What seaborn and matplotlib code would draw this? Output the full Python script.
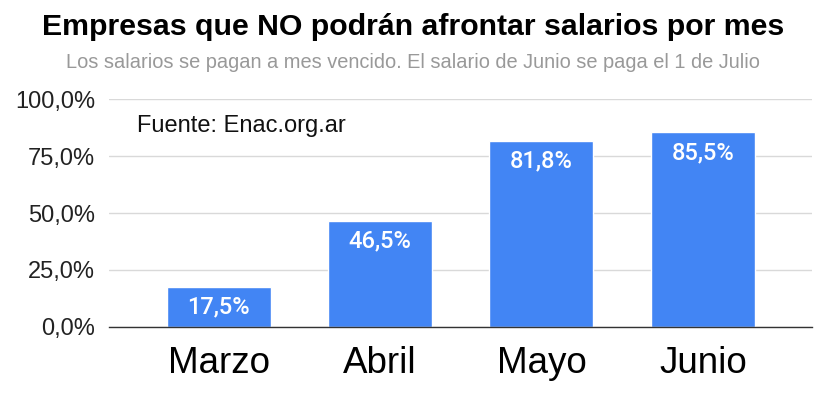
import matplotlib
matplotlib.use("Agg")
import matplotlib.pyplot as plt
import seaborn as sns
import pandas as pd
from matplotlib.ticker import FuncFormatter

meses = ["Marzo", "Abril", "Mayo", "Junio"]
porcentajes = [17.5, 46.5, 81.8, 85.5]
yticks = [0, 25, 50, 75, 100]

title = "Empresas que NO podrán afrontar salarios por mes"
subtitle = "Los salarios se pagan a mes vencido. El salario de Junio se paga el 1 de Julio"
source = "Fuente: Enac.org.ar"

sns.set_theme(style="white")
plt.rcParams['font.family'] = ['Liberation Sans', 'DejaVu Sans']

df = pd.DataFrame({"mes": meses, "pct": porcentajes})

fig = plt.figure(figsize=(8.26, 3.99), dpi=100)
ax = fig.add_axes([0.132, 0.181, 0.851, 0.570])
sns.barplot(data=df, x="mes", y="pct", color="#4285f4", saturation=1,
            width=0.644, ax=ax, zorder=3)

ax.set_ylim(0, 100)
ax.set_xlim(-0.678, 3.675)
ax.set_yticks(yticks)
ax.yaxis.set_major_formatter(FuncFormatter(lambda v, p: f"{v:.1f}%".replace(".", ",")))
ax.grid(axis="y", color="#d9d9d9", linewidth=1, zorder=0)
for s in ["top", "right", "left"]:
    ax.spines[s].set_visible(False)
ax.spines["bottom"].set_color("#333333")
ax.spines["bottom"].set_linewidth(1)
ax.spines["bottom"].set_zorder(4)
ax.set_xlabel("")
ax.set_ylabel("")
ax.tick_params(axis="y", labelsize=17, colors="#222222", length=0, pad=10)
ax.tick_params(axis="x", labelsize=26.5, colors="#000000", length=0, pad=14)

for i, v in enumerate(porcentajes):
    ax.annotate(f"{v:.1f}%".replace(".", ","), xy=(i, v), xytext=(0, -14.5),
                textcoords="offset points", ha="center", va="center",
                color="white", fontsize=17, fontfamily="Roboto", fontweight="medium")

fig.text(0.5, 0.932, title, ha="center", va="center", fontsize=21.8,
         fontweight="bold", color="#000000")
fig.text(0.5, 0.843, subtitle, ha="center", va="center", fontsize=14.4,
         color="#999999")
ax.text(0.04, 0.885, source, transform=ax.transAxes, ha="left", va="center",
        fontsize=17, color="#111111")

fig.savefig("out.png", dpi=100)
